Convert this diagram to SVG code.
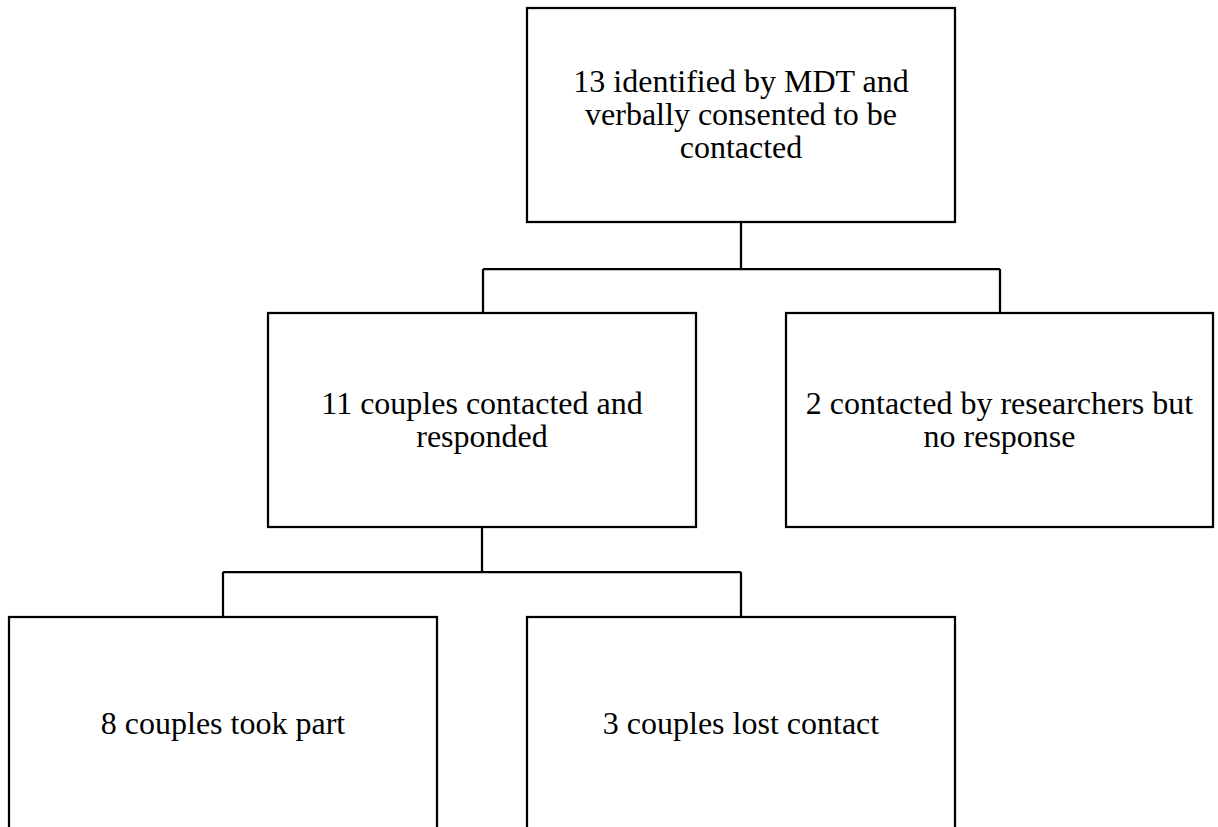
<svg xmlns="http://www.w3.org/2000/svg" width="1218" height="827" viewBox="0 0 1218 827">
<style>
.box{fill:#ffffff;stroke:#000000;stroke-width:2.25}
.lbl{font-family:'Liberation Serif', 'Times New Roman', Times, serif;font-size:32px;fill:#000000;text-anchor:middle}
.conn{fill:none;stroke:#000000;stroke-width:2.25}
</style>
<rect width="1218" height="827" fill="#ffffff"/>
<g id="connectors">
<path class="conn" d="M741,222 V269 M483,269 H1000 M483,269 V313 M1000,269 V313"/>
<path class="conn" d="M482,527 V572 M223,572 H741 M223,572 V617 M741,572 V617"/>
</g>
<g id="n13">
<rect class="box" x="527" y="8" width="428" height="214"/>
<text class="lbl" x="741" y="92">13 identified by MDT and</text>
<text class="lbl" x="741" y="125">verbally consented to be</text>
<text class="lbl" x="741" y="158">contacted</text>
</g>
<g id="n11">
<rect class="box" x="268" y="313" width="428" height="214"/>
<text class="lbl" x="482" y="414">11 couples contacted and</text>
<text class="lbl" x="482" y="447">responded</text>
</g>
<g id="n2">
<rect class="box" x="786" y="313" width="427" height="214"/>
<text class="lbl" x="999.5" y="414">2 contacted by researchers but</text>
<text class="lbl" x="999.5" y="447">no response</text>
</g>
<g id="n8">
<rect class="box" x="9" y="617" width="428" height="214"/>
<text class="lbl" x="223" y="734">8 couples took part</text>
</g>
<g id="n3">
<rect class="box" x="527" y="617" width="428" height="214"/>
<text class="lbl" x="741" y="734">3 couples lost contact</text>
</g>
</svg>
